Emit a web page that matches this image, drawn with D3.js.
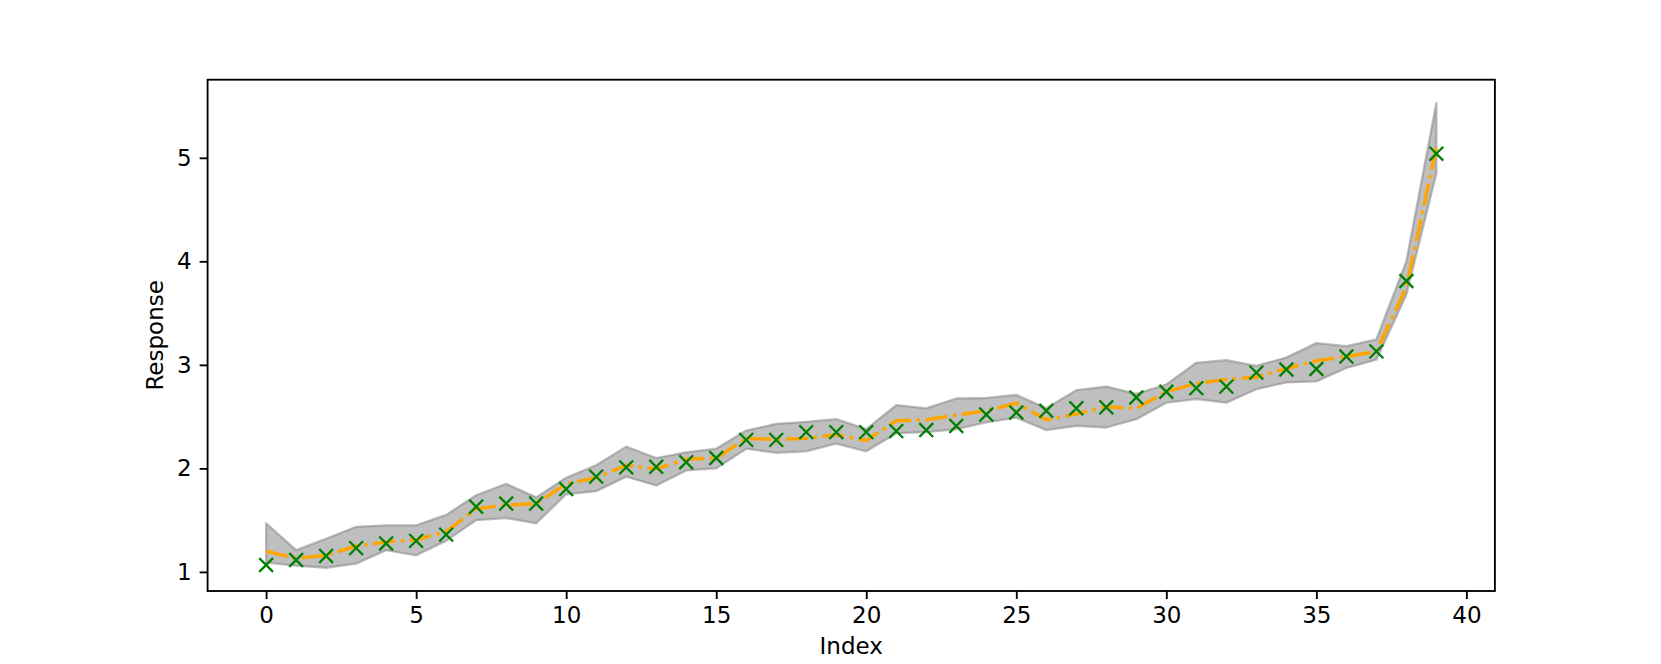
<!DOCTYPE html>
<html>
<head>
<meta charset="utf-8">
<script src="https://cdn.jsdelivr.net/npm/d3@7"></script>
<style>
  body { margin: 0; background: #fff; }
  text { font-family: "DejaVu Sans", sans-serif; fill: #000; }
</style>
</head>
<body>
<svg id="chart" width="1661" height="664"></svg>
<script>
// observed response, sorted
var actual = [1.067, 1.115, 1.154, 1.23, 1.275, 1.30, 1.36, 1.63, 1.66, 1.66,
  1.80, 1.92, 2.01, 2.015, 2.06, 2.10, 2.275, 2.275, 2.35, 2.35,
  2.35, 2.36, 2.37, 2.41, 2.52, 2.54, 2.556, 2.58, 2.59, 2.685,
  2.74, 2.775, 2.79, 2.925, 2.955, 2.96, 3.08, 3.13, 3.81, 5.04];

// predicted mean (dash-dot line)
var mean = [1.20, 1.13, 1.16, 1.25, 1.29, 1.31, 1.39, 1.61, 1.645, 1.66,
  1.85, 1.91, 2.03, 1.995, 2.09, 2.10, 2.29, 2.28, 2.29, 2.325,
  2.27, 2.46, 2.47, 2.515, 2.555, 2.63, 2.47, 2.525, 2.595, 2.58,
  2.74, 2.82, 2.86, 2.88, 2.965, 3.04, 3.08, 3.13, 3.75, 5.10];

// band bounds
var upper = [1.47, 1.21, 1.32, 1.435, 1.45, 1.45, 1.55, 1.74, 1.85, 1.72,
  1.91, 2.03, 2.21, 2.10, 2.155, 2.19, 2.365, 2.43, 2.45, 2.475,
  2.38, 2.61, 2.58, 2.675, 2.68, 2.71, 2.58, 2.755, 2.79, 2.72,
  2.81, 3.02, 3.045, 2.99, 3.07, 3.21, 3.18, 3.245, 4.00, 5.53];

var lower = [1.09, 1.06, 1.04, 1.08, 1.21, 1.16, 1.30, 1.50, 1.52, 1.47,
  1.75, 1.78, 1.92, 1.835, 1.98, 2.00, 2.19, 2.15, 2.165, 2.24,
  2.165, 2.34, 2.35, 2.38, 2.445, 2.49, 2.37, 2.41, 2.395, 2.475,
  2.635, 2.67, 2.635, 2.765, 2.83, 2.84, 2.97, 3.05, 3.68, 4.85];

var xTicks = [0, 5, 10, 15, 20, 25, 30, 35, 40];
var yTicks = [1, 2, 3, 4, 5];

var idx = d3.range(actual.length);

var svg = d3.select("#chart"),
  margin = { top: 79.7, right: 166.1, bottom: 73, left: 207.6 };

var width = 1661 - margin.left - margin.right;
var height = 664 - margin.top - margin.bottom;

// matplotlib style 5% padding
function pad(ext) {
  var r = ext[1] - ext[0];
  return [ext[0] - 0.05 * r, ext[1] + 0.05 * r];
}

var allY = actual.concat(mean, upper, lower);

var x = d3.scaleLinear().domain(pad(d3.extent(idx))).range([0, width]),
  y = d3.scaleLinear().domain(pad(d3.extent(allY))).range([height, 0]);

var g = svg.append("g")
  .attr("transform", "translate(" + margin.left + "," + margin.top + ")");

// band
var area = d3.area()
  .x(function(i) { return x(i); })
  .y0(function(i) { return y(lower[i]); })
  .y1(function(i) { return y(upper[i]); });

g.append("path")
  .datum(idx)
  .attr("d", area)
  .attr("fill", "gray")
  .attr("fill-opacity", 0.5)
  .attr("stroke", "gray")
  .attr("stroke-opacity", 0.5)
  .attr("stroke-width", 2.3)
  .attr("stroke-linejoin", "round");

// mean line
var line = d3.line()
  .x(function(i) { return x(i); })
  .y(function(i) { return y(mean[i]); });

g.append("path")
  .datum(idx)
  .attr("d", line)
  .attr("fill", "none")
  .attr("stroke", "orange")
  .attr("stroke-width", 3.46)
  .attr("stroke-dasharray", "22.1,5.5,3.46,5.5")
  .attr("stroke-linejoin", "round");

// markers
var s = 6.9;
g.selectAll(".pt")
  .data(idx)
  .enter().append("path")
  .attr("class", "pt")
  .attr("transform", function(i) { return "translate(" + x(i) + "," + y(actual[i]) + ")"; })
  .attr("d", "M" + (-s) + "," + (-s) + "L" + s + "," + s + "M" + (-s) + "," + s + "L" + s + "," + (-s))
  .attr("stroke", "green")
  .attr("stroke-width", 2.3)
  .attr("fill", "none");

// axes
var xAxis = g.append("g")
  .attr("transform", "translate(0," + height + ")")
  .call(d3.axisBottom(x).tickValues(xTicks).tickSize(8).tickPadding(8).tickFormat(d3.format("d")));

var yAxis = g.append("g")
  .call(d3.axisLeft(y).tickValues(yTicks).tickSize(8).tickPadding(8).tickFormat(d3.format("d")));

[xAxis, yAxis].forEach(function(a) {
  a.select(".domain").remove();
  a.selectAll("line").attr("stroke", "#000").attr("stroke-width", 1.85);
  a.selectAll("text").attr("font-size", "23px").attr("font-family", "DejaVu Sans");
});

// frame
g.append("rect")
  .attr("width", width)
  .attr("height", height)
  .attr("fill", "none")
  .attr("stroke", "#000")
  .attr("stroke-width", 1.85);

svg.append("text")
  .attr("x", margin.left + width / 2)
  .attr("y", 654)
  .attr("text-anchor", "middle")
  .attr("font-size", "23px")
  .text("Index");

svg.append("text")
  .attr("transform", "translate(163," + (margin.top + height / 2) + ") rotate(-90)")
  .attr("text-anchor", "middle")
  .attr("font-size", "23px")
  .text("Response");
</script>
</body>
</html>
